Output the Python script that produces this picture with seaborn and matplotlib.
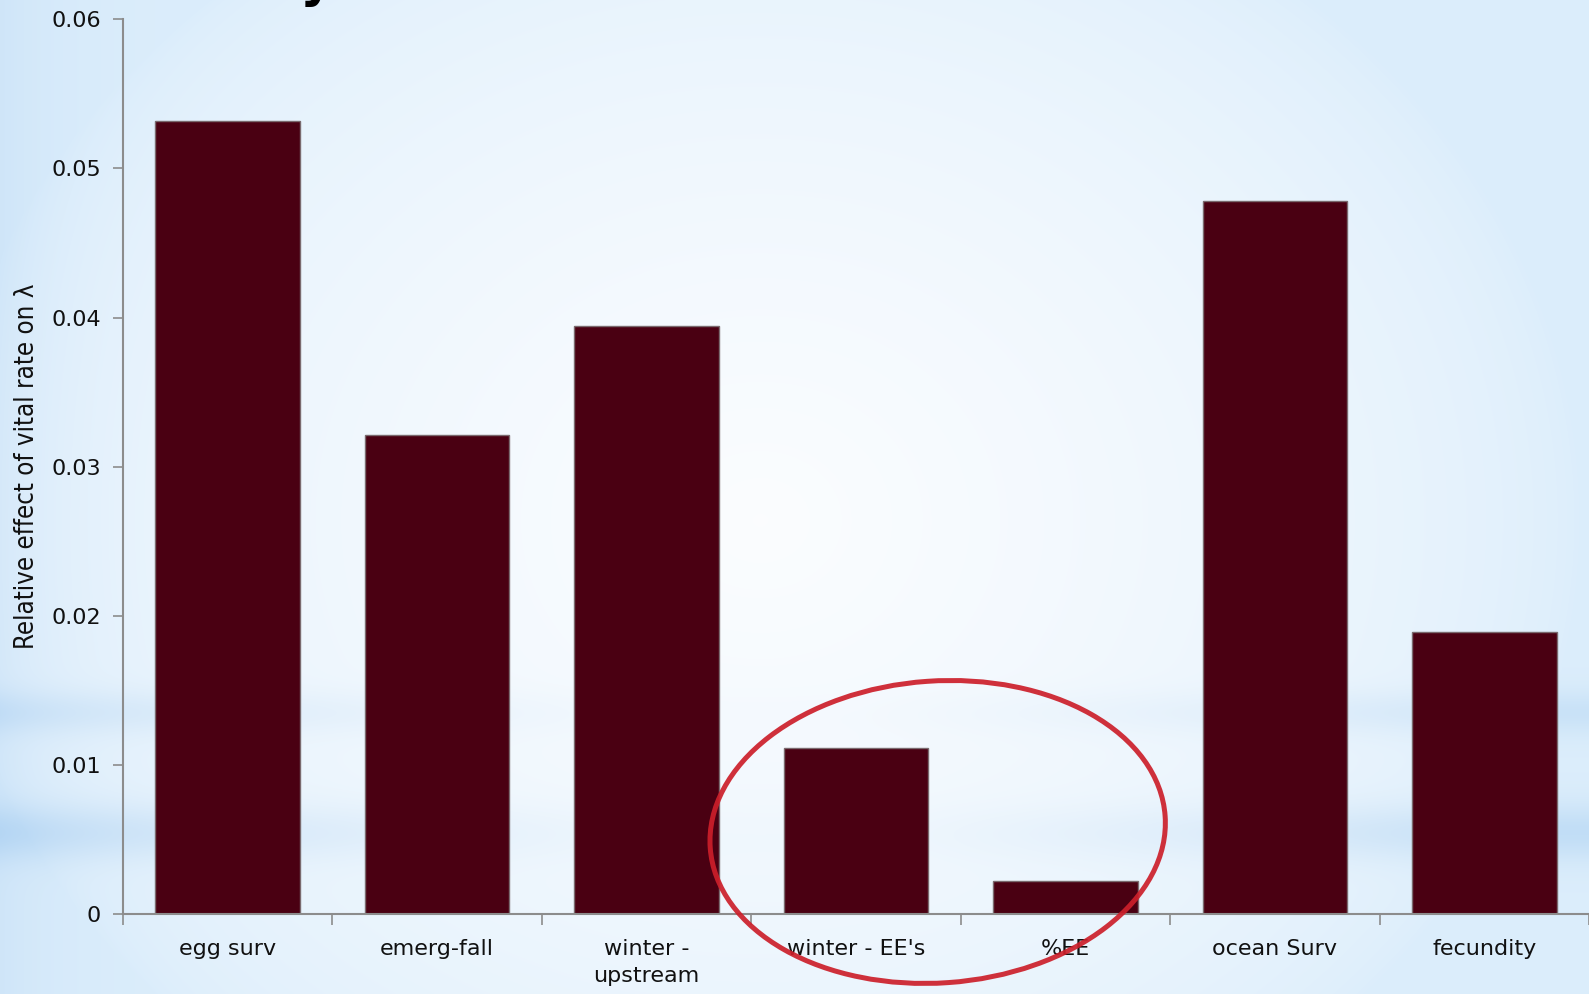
import numpy as np
import pandas as pd
import matplotlib
matplotlib.use("Agg")
import matplotlib.pyplot as plt
import seaborn as sns
from matplotlib.patches import Ellipse
from matplotlib.transforms import IdentityTransform

categories = ["egg surv", "emerg-fall", "winter -\nupstream", "winter - EE's", "%EE", "ocean Surv", "fecundity"]
values = [0.0532, 0.0321, 0.0394, 0.0111, 0.0022, 0.0478, 0.0189]
y_ticks = [0, 0.01, 0.02, 0.03, 0.04, 0.05, 0.06]
y_tick_labels = ["0", "0.01", "0.02", "0.03", "0.04", "0.05", "0.06"]
y_label = "Relative effect of vital rate on λ"

sns.set_theme(style="white")
plt.rcParams['font.family'] = ['DejaVu Sans']

W, H = 1589, 994
fig = plt.figure(figsize=(W / 100, H / 100), dpi=100)

# background gradient (light, whitish centre, blue edges and soft bands low down)
bg_ax = fig.add_axes([0, 0, 1, 1], zorder=-10)
yy, xx = np.mgrid[0:H, 0:W]
r = np.sqrt(((xx - 760) / 820.0) ** 2 + ((yy - 520) / 700.0) ** 2)
white = np.clip(1 - r, 0, 1) ** 0.6
edge = np.array([0.86, 0.93, 0.985])
center = np.array([0.985, 0.992, 1.0])
img = edge[None, None, :] * (1 - white[..., None]) + center[None, None, :] * white[..., None]
band = np.exp(-((yy - 712) / 22.0) ** 2) * 0.7 + np.exp(-((yy - 832) / 28.0) ** 2) * 1.0
side = np.clip(np.abs(xx - 780) / 780.0, 0.1, 1.0) ** 1.2
img = img - (band * side)[..., None] * np.array([0.10, 0.06, 0.02])[None, None, :]
leftedge = np.exp(-xx / 60.0) * 0.6
img = img - leftedge[..., None] * np.array([0.08, 0.05, 0.015])[None, None, :]
bg_ax.imshow(np.clip(img, 0, 1), aspect="auto", extent=[0, 1, 0, 1])
bg_ax.axis("off")

ax = fig.add_axes([0.0774, 0.0805, 0.9226, 0.9001])
ax.patch.set_alpha(0)
df = pd.DataFrame({"category": categories, "value": values})
sns.barplot(data=df, x="category", y="value", ax=ax, color="#4A0012", saturation=1,
            width=0.69, edgecolor="#7a6a6e", linewidth=1.0)

ax.set_xlim(-0.5, len(categories) - 0.5)
ax.set_ylim(0, 0.06)
ax.set_yticks(y_ticks)
ax.set_yticklabels(y_tick_labels, fontsize=16)
ax.set_xticks(np.arange(len(categories)))
ax.set_xticklabels(categories, fontsize=16, linespacing=1.45)
ax.tick_params(axis="x", length=0, pad=18)
ax.tick_params(axis="y", length=7, color="#8c8c8c", width=1.2, left=True, pad=9)
ax.set_xticks(np.arange(len(categories) + 1) - 0.5, minor=True)
ax.tick_params(axis="x", which="minor", length=8, color="#8c8c8c", width=1.2, bottom=True)
for lbl in ax.get_yticklabels() + ax.get_xticklabels():
    lbl.set_color("#111111")
for s in ["top", "right"]:
    ax.spines[s].set_visible(False)
for s in ["left", "bottom"]:
    ax.spines[s].set_color("#8c8c8c")
    ax.spines[s].set_linewidth(1.5)
ax.set_xlabel("")
ax.set_ylabel(y_label, fontsize=18.5, fontstretch="condensed", color="#111111")
ax.yaxis.set_label_coords(-0.0565, 0.50)

# partially visible title at top
fig.text(0.21, 1.003, "Sensitivity", fontsize=36, fontweight="bold", ha="right", va="baseline",
         color="black")

# red ellipse annotation
fig.canvas.draw()
cx, cy = ax.transData.transform((3.39, 0.0055))
ell = Ellipse((cx, cy), width=456, height=302, angle=4, transform=IdentityTransform(),
              fill=False, edgecolor="#CC1F2A", linewidth=3.6, alpha=0.92, zorder=20, clip_on=False)
fig.add_artist(ell)

fig.savefig("out.png", dpi=100)
